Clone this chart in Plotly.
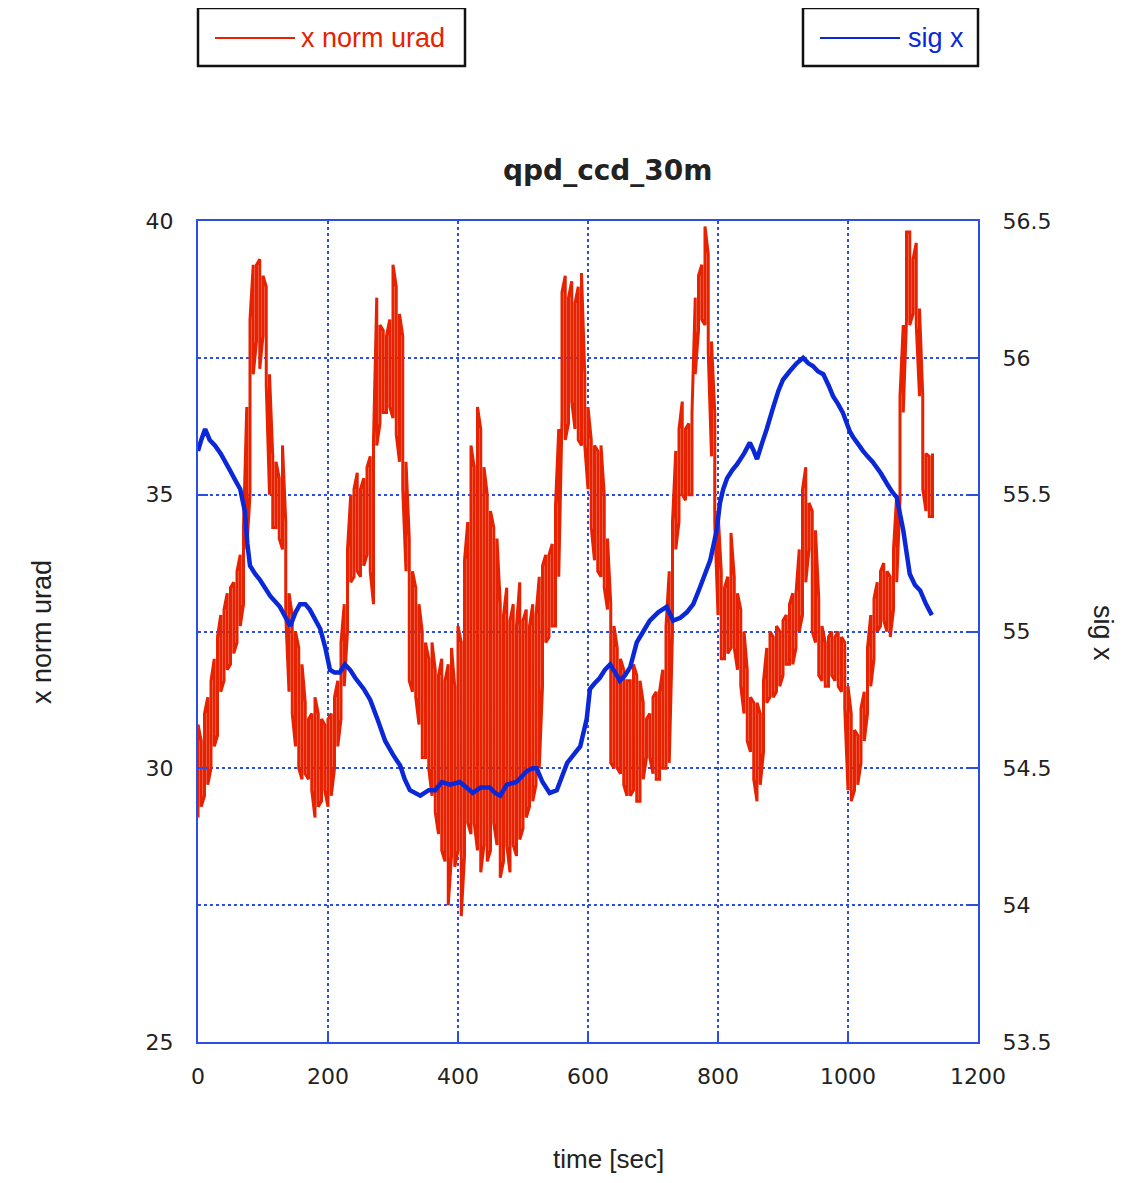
import plotly.graph_objects as go

# ---- data ----
# x norm urad: lower / upper envelope of the noisy trace, sampled every 5 s (0..1130 s)
red_t = list(range(0, 1131, 5))
red_lo = [
    29.1, 29.3, 29.5, 29.7, 30.0, 30.4, 30.6, 31.4, 31.6, 31.8,
    31.9, 32.1, 32.3, 32.6, 33.0, 34.0, 35.0, 37.2, 37.8, 37.3,
    37.9, 37.0, 35.0, 34.4, 34.4, 34.2, 34.0, 32.8, 31.4, 31.0,
    30.4, 30.0, 29.8, 29.9, 29.8, 29.6, 29.1, 29.3, 29.4, 29.6,
    29.3, 29.5, 30.0, 30.4, 30.9, 31.5, 32.5, 33.4, 33.5, 33.6,
    33.5, 33.7, 33.9, 33.6, 33.0, 35.9, 36.3, 36.5, 36.5, 36.6,
    36.4, 36.1, 35.6, 35.1, 33.6, 31.6, 31.4, 31.3, 30.8, 30.2,
    30.2, 30.0, 29.5, 29.2, 28.8, 28.5, 28.3, 27.5, 28.4, 28.2,
    28.5, 27.3, 28.4, 29.0, 28.8, 29.0, 28.5, 28.1, 28.6, 28.3,
    28.5, 29.0, 28.6, 28.0, 28.3, 28.6, 28.1, 28.6, 28.4, 28.7,
    28.9, 29.1, 29.3, 29.4, 29.7, 30.0, 31.5, 32.3, 32.4, 32.6,
    32.6, 33.5, 36.4, 36.0, 36.3, 36.7, 36.2, 36.0, 35.9, 35.9,
    35.1, 34.4, 33.8, 33.6, 33.5, 33.3, 32.9, 30.1, 30.0, 30.0,
    29.9, 29.7, 29.5, 29.5, 29.6, 29.4, 29.4, 29.8, 30.2, 30.2,
    29.9, 29.8, 29.8, 30.0, 30.0, 30.1, 32.5, 34.0, 34.5, 35.0,
    34.9, 35.0, 35.0, 37.2, 38.0, 38.2, 38.1, 37.6, 35.7, 34.5,
    32.8, 32.0, 32.0, 32.1, 32.2, 32.2, 31.8, 31.5, 31.0, 30.5,
    30.3, 29.8, 29.4, 29.7, 30.3, 31.2, 31.3, 31.3, 31.4, 31.5,
    31.7, 31.9, 31.9, 31.9, 32.2, 32.5, 32.8, 33.4, 34.0, 32.5,
    32.3, 31.7, 31.6, 31.5, 31.5, 31.7, 31.6, 31.5, 31.4, 31.1,
    29.6, 29.4, 29.6, 29.7, 30.1, 30.5, 31.0, 31.5, 32.0, 32.5,
    32.6, 32.7, 32.5, 32.4, 32.9, 33.4, 34.9, 36.5, 38.2, 38.1,
    38.3, 38.1, 36.8, 35.1, 34.7, 34.6, 34.6,
]
red_hi = [
    30.8, 30.5, 31.0, 31.3, 31.6, 32.0, 32.4, 32.8, 32.9, 33.2,
    33.3, 33.4, 33.6, 33.9, 34.4, 36.6, 38.2, 39.2, 39.2, 39.3,
    39.0, 38.8, 37.2, 35.7, 35.6, 35.3, 35.9, 34.5, 33.2, 32.8,
    32.5, 32.2, 31.9, 31.2, 30.9, 31.0, 31.3, 31.0, 30.9, 30.8,
    30.9, 31.0, 31.3, 31.6, 32.3, 33.0, 34.0, 35.0, 35.1, 35.4,
    35.1, 35.3, 35.5, 35.7, 36.0, 38.6, 38.1, 38.0, 37.9, 38.2,
    39.2, 38.8, 38.3, 37.9, 35.6, 34.2, 33.6, 33.3, 33.0, 32.5,
    32.3, 32.0, 32.3, 31.8, 31.7, 32.0, 31.6, 31.9, 32.2, 31.5,
    32.6, 32.3, 33.8, 34.5, 35.9, 35.5, 36.6, 36.2, 35.5, 35.0,
    34.7, 34.4, 34.2, 33.0, 32.8, 33.3, 32.7, 33.0, 32.6, 33.4,
    32.7, 32.9, 32.6, 33.0, 32.8, 33.5, 33.7, 33.9, 33.9, 34.1,
    34.8, 36.2, 38.7, 39.0, 38.6, 38.9, 38.5, 38.8, 39.05, 37.2,
    36.6, 36.0, 35.9, 35.8, 35.9, 35.0, 34.2, 33.0, 32.6, 32.2,
    32.0, 31.8, 31.6, 31.6, 31.9, 31.7, 31.6, 31.2, 30.9, 31.0,
    31.3, 31.4, 31.4, 31.8, 32.6, 33.6, 34.5, 35.8, 36.2, 36.7,
    36.2, 36.3, 36.5, 38.6, 39.0, 39.2, 39.9, 39.4, 37.8, 36.5,
    34.7, 33.6, 33.3, 33.5, 34.3, 33.5, 33.2, 32.9, 32.5, 31.8,
    31.3, 31.2, 31.2, 31.0, 31.6, 32.2, 32.5, 32.4, 32.6, 32.5,
    32.7, 32.8, 33.0, 33.2, 33.2, 34.0, 35.1, 35.5, 34.85, 34.7,
    34.35, 33.1, 32.6, 32.3, 32.4, 32.5, 32.4, 32.5, 32.4, 32.3,
    31.5, 31.0, 30.7, 30.6, 31.1, 31.4, 32.2, 32.8, 33.1, 33.4,
    33.6, 33.75, 33.6, 33.5, 34.0, 35.0, 36.8, 38.1, 39.8, 39.8,
    39.3, 39.6, 38.4, 36.8, 35.75, 35.7, 35.75,
]

# sig x
blue_t = [0, 5, 11, 18, 26, 35, 49, 58, 65, 72, 76, 80, 88, 95, 111, 126, 142, 150, 157, 165,
          172, 188, 196, 203, 210, 218, 226, 234, 242, 255, 265, 276, 288, 300, 311, 318, 326, 342, 355, 365,
          375, 388, 403, 413, 423, 435, 449, 457, 465, 475, 490, 506, 515, 521, 530, 541, 552, 560, 568, 578,
          588, 598, 603, 610, 618, 626, 634, 642, 649, 657, 665, 675, 685, 695, 708, 721, 731, 742, 752, 762,
          772, 780, 788, 798, 803, 808, 814, 822, 829, 840, 849, 855, 860, 868, 875, 885, 893, 900, 910, 921,
          931, 939, 946, 954, 962, 970, 977, 985, 992, 1003, 1008, 1014, 1023, 1030, 1038, 1050, 1060, 1068, 1075, 1080,
          1085, 1090, 1095, 1103, 1111, 1120, 1129]
blue_v = [55.66, 55.70, 55.74, 55.70, 55.68, 55.65, 55.59, 55.55, 55.52, 55.44, 55.32, 55.24, 55.21, 55.19, 55.13, 55.09, 55.02, 55.07, 55.10, 55.10,
          55.08, 55.01, 54.94, 54.86, 54.85, 54.85, 54.88, 54.86, 54.83, 54.79, 54.75, 54.68, 54.60, 54.55, 54.51, 54.46, 54.42, 54.40, 54.42, 54.42,
          54.45, 54.44, 54.45, 54.43, 54.41, 54.43, 54.43, 54.41, 54.40, 54.44, 54.45, 54.49, 54.50, 54.50, 54.45, 54.41, 54.42, 54.47, 54.52, 54.55,
          54.58, 54.68, 54.79, 54.81, 54.83, 54.86, 54.88, 54.85, 54.82, 54.84, 54.87, 54.96, 55.00, 55.04, 55.07, 55.09, 55.04, 55.05, 55.07, 55.10,
          55.16, 55.21, 55.26, 55.37, 55.47, 55.52, 55.56, 55.59, 55.61, 55.65, 55.69, 55.66, 55.63, 55.69, 55.74, 55.82, 55.88, 55.92, 55.95, 55.98,
          56.00, 55.98, 55.97, 55.95, 55.94, 55.90, 55.86, 55.83, 55.80, 55.73, 55.71, 55.69, 55.66, 55.64, 55.62, 55.58, 55.54, 55.51, 55.49, 55.43,
          55.37, 55.29, 55.21, 55.17, 55.15, 55.10, 55.06]

x_ticks = [0, 200, 400, 600, 800, 1000, 1200]
y_ticks = [25, 30, 35, 40]
y2_ticks = [53.5, 54, 54.5, 55, 55.5, 56, 56.5]
y2_labels = ["53.5", "54", "54.5", "55", "55.5", "56", "56.5"]

RED = "#e62200"
BLUE = "#0a28d8"
AXC = "#2a4ee6"
TXT = "#222222"

# build the noisy trace as vertical strokes between the envelopes
xr, yr = [], []
for i, t in enumerate(red_t):
    a, b = (red_lo[i], red_hi[i]) if i % 2 == 0 else (red_hi[i], red_lo[i])
    xr += [t, t]
    yr += [a, b]

fig = go.Figure()
fig.add_trace(go.Scatter(x=xr, y=yr, mode="lines",
                         line=dict(color=RED, width=3.0, simplify=False),
                         name="x norm urad", yaxis="y"))
fig.add_trace(go.Scatter(x=blue_t, y=blue_v, mode="lines",
                         line=dict(color=BLUE, width=4.5, simplify=False),
                         name="sig x", yaxis="y2"))

# page is drawn with an 8px body margin
OFF = 8
W, H = 1116, 1167
PL, PR, PT, PB = 198, 978, 221, 1042          # plot area in page pixels
L, T = PL - OFF, PT - OFF
R = W - (PR - OFF)
B = H - (PB - OFF)
pw, ph = PR - PL, PB - PT


def px(x):
    return (x - PL) / pw


def py(y):
    return (PB - y) / ph


tickfont = dict(family="DejaVu Sans", size=22, color=TXT)
fig.update_layout(
    width=W, height=H,
    margin=dict(l=L, r=R, t=T, b=B, pad=0),
    paper_bgcolor="white", plot_bgcolor="white",
    showlegend=False,
    xaxis=dict(range=[0, 1200], tickvals=x_ticks, ticks="inside", ticklen=10, tickcolor=AXC,
               tickwidth=2, showline=True, linecolor=AXC, linewidth=2, mirror=True,
               showgrid=True, gridcolor=AXC, griddash="dot", gridwidth=1.5,
               zeroline=False, tickfont=tickfont, ticklabelstandoff=14),
    yaxis=dict(range=[25, 40], tickvals=y_ticks, ticks="inside", ticklen=10, tickcolor=AXC,
               tickwidth=2, showline=True, linecolor=AXC, linewidth=2,
               showgrid=False, zeroline=False, tickfont=tickfont, ticklabelstandoff=18),
    yaxis2=dict(range=[53.5, 56.5], tickvals=y2_ticks, ticktext=y2_labels, overlaying="y",
                side="right", ticks="inside", ticklen=10, tickcolor=AXC, tickwidth=2,
                showline=True, linecolor=AXC, linewidth=2,
                showgrid=True, gridcolor=AXC, griddash="dot", gridwidth=1.5,
                zeroline=False, tickfont=tickfont, ticklabelstandoff=18),
)

ann_font = dict(family="Liberation Sans", size=27)


def ann(text, x, y, color, **kw):
    d = dict(text=text, x=px(x), y=py(y), xref="paper", yref="paper",
             showarrow=False, yanchor="middle", font=dict(ann_font, color=color))
    d.update(kw)
    return d


annotations = [
    ann("<b>qpd_ccd_30m</b>", 608, 170, TXT, font=dict(family="DejaVu Sans", size=28, color=TXT)),
    ann("time [sec]", 608, 1159, TXT, font=dict(family="Liberation Sans", size=26, color=TXT)),
    ann("x norm urad", 25, 632, TXT, textangle=-90),
    ann("sig x", 1120, 633, TXT, textangle=90),
    ann("x norm urad", 299, 38, RED, xanchor="left"),
    ann("sig x", 906, 38, BLUE, xanchor="left"),
]
fig.update_layout(annotations=annotations)

shapes = [
    dict(type="rect", xref="paper", yref="paper", x0=px(198), x1=px(465), y0=py(66), y1=py(8),
         line=dict(color="#111111", width=2.5), fillcolor="rgba(0,0,0,0)"),
    dict(type="line", xref="paper", yref="paper", x0=px(215), x1=px(295), y0=py(38), y1=py(38),
         line=dict(color=RED, width=2)),
    dict(type="rect", xref="paper", yref="paper", x0=px(803), x1=px(978), y0=py(66), y1=py(8),
         line=dict(color="#111111", width=2.5), fillcolor="rgba(0,0,0,0)"),
    dict(type="line", xref="paper", yref="paper", x0=px(820), x1=px(900), y0=py(38), y1=py(38),
         line=dict(color=BLUE, width=2)),
]
fig.update_layout(shapes=shapes)

fig.write_html("out.html")
